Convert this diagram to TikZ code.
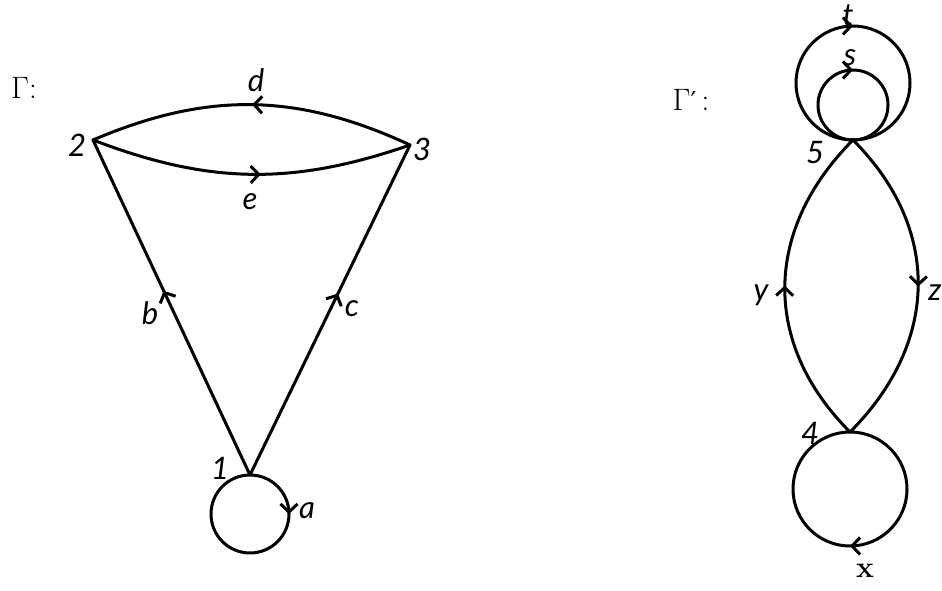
\documentclass[tikz,border=0pt]{standalone}
\usepackage{fontspec}
\newfontfamily\labfont{Lato}
\newfontfamily\dvserif{DejaVu Serif}
\usetikzlibrary{arrows.meta,decorations.markings}
\begin{document}
\begin{tikzpicture}[x=1pt,y=1pt,
  gline/.style={line width=3pt, line cap=round, line join=round},
  midarr/.style={postaction={decorate},decoration={markings,
     mark=at position #1 with {\arrow{Straight Barb[length=8pt,width=17pt,line width=3pt]}}}},
  lab/.style={font=\labfont\itshape\fontsize{31}{33}\selectfont, inner sep=0pt},
  romlab/.style={font=\fontsize{31}{33}\selectfont, inner sep=0pt},
  xlab/.style={font=\bfseries\fontsize{30}{32}\selectfont, inner sep=0pt}]
\useasboundingbox (0,0) rectangle (942,591);
% vertices
\coordinate (v1) at (250,116);
\coordinate (v2) at (93,451);
\coordinate (v3) at (410,446);
\coordinate (v4) at (850,159);
\coordinate (v5) at (853,451);
% graph Gamma
\node[romlab] (G1) at (24,503) {Γ:};
\draw[gline, midarr=0.55] (v1) -- (v2);
\draw[gline, midarr=0.55] (v1) -- (v3);
\draw[gline, midarr=0.5] (v3) to[bend right=24] (v2);
\draw[gline, midarr=0.53] (v2) to[bend right=20] (v3);
\draw[gline, midarr=0.25] (v1) arc[start angle=90, end angle=-270, radius=39];
\node[lab] (l2) at (77,446) {2};
\node[lab] (l3) at (422,442) {3};
\node[lab] (l1) at (220,123) {1};
\node[lab] (ld) at (256,511) {d};
\node[lab] (le) at (250,389) {e};
\node[lab] (lb) at (150,278) {b};
\node[lab] (lc) at (352,282) {c};
\node[lab] (la) at (307,80) {a};
% graph Gamma'
\node[romlab] (G2) at (691,491) {Γ{\dvserif\fontsize{26}{28}\selectfont ′}\,:};
\draw[gline, midarr=0.5] (v5) arc[start angle=-90, end angle=-450, radius=57];
\draw[gline, midarr=0.5] (v5) arc[start angle=-90, end angle=-450, radius=35];
\draw[gline, midarr=0.5] (v4) to[out=135,in=-135,looseness=1.1] (v5);
\draw[gline, midarr=0.5] (v5) to[out=-45,in=45,looseness=1.1] (v4);
\draw[gline, midarr=0.5] (v4) arc[start angle=90, end angle=-270, radius=57];
\node[lab] (l5) at (815,438) {5};
\node[lab] (l4) at (810,158) {4};
\node[lab] (lt) at (848,576) {t};
\node[lab] (ls) at (850,533) {s};
\node[lab] (ly) at (761,296) {y};
\node[lab] (lz) at (935,298) {z};
\node[xlab] (lx) at (865,20) {x};
\end{tikzpicture}
\end{document}
